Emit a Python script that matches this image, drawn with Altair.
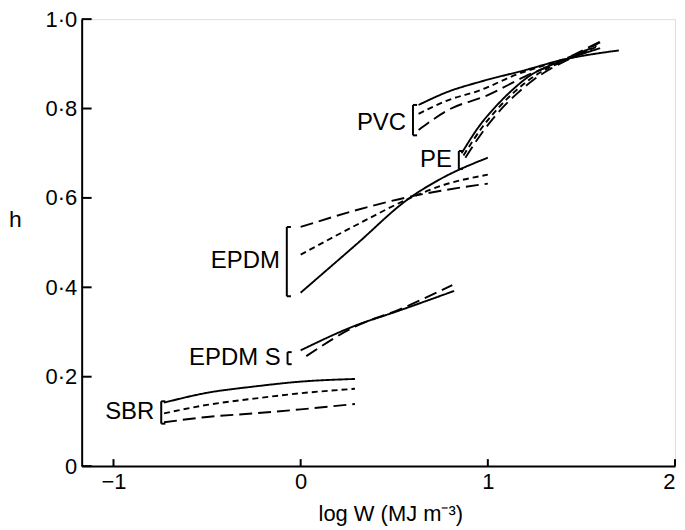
import altair as alt
import pandas as pd

# ---- data (x = log W, y = h) ----
SBR_solid_x = [-0.73, -0.5, -0.25, 0.0, 0.29]
SBR_solid_h = [0.142, 0.164, 0.178, 0.189, 0.195]
SBR_short_x = [-0.73, -0.5, -0.25, 0.0, 0.29]
SBR_short_h = [0.118, 0.137, 0.151, 0.163, 0.173]
SBR_long_x = [-0.73, -0.5, -0.25, 0.0, 0.29]
SBR_long_h = [0.098, 0.110, 0.118, 0.127, 0.139]

EPDMS_solid_x = [0.0, 0.29, 0.52, 0.82]
EPDMS_solid_h = [0.259, 0.314, 0.347, 0.392]
EPDMS_long_x = [0.03, 0.29, 0.52, 0.81]
EPDMS_long_h = [0.246, 0.312, 0.349, 0.405]

EPDM_solid_x = [0.0, 0.3, 0.576, 0.75, 1.0]
EPDM_solid_h = [0.388, 0.497, 0.598, 0.643, 0.69]
EPDM_short_x = [0.0, 0.3, 0.576, 0.75, 1.0]
EPDM_short_h = [0.473, 0.54, 0.598, 0.627, 0.652]
EPDM_long_x = [0.0, 0.3, 0.576, 0.75, 1.0]
EPDM_long_h = [0.535, 0.573, 0.602, 0.616, 0.632]

PVC_solid_x = [0.63, 0.79, 0.96, 1.2, 1.39, 1.70]
PVC_solid_h = [0.808, 0.838, 0.86, 0.886, 0.908, 0.930]
PVC_short_x = [0.63, 0.79, 0.96, 1.14, 1.41, 1.58]
PVC_short_h = [0.788, 0.819, 0.841, 0.874, 0.911, 0.940]
PVC_long_x = [0.63, 0.79, 1.0, 1.2, 1.4, 1.6]
PVC_long_h = [0.752, 0.797, 0.83, 0.872, 0.908, 0.950]

PE_solid_x = [0.86, 0.96, 1.05, 1.14, 1.23, 1.32, 1.42, 1.6]
PE_solid_h = [0.70, 0.764, 0.808, 0.845, 0.875, 0.894, 0.91, 0.935]
PE_short_x = [0.87, 0.97, 1.06, 1.15, 1.24, 1.33, 1.43, 1.59]
PE_short_h = [0.695, 0.758, 0.803, 0.84, 0.87, 0.892, 0.91, 0.94]
PE_long_x = [0.88, 0.98, 1.07, 1.16, 1.25, 1.34, 1.44, 1.6]
PE_long_h = [0.69, 0.752, 0.798, 0.835, 0.866, 0.89, 0.912, 0.948]

# brackets and labels
labels = ["SBR", "EPDM S", "EPDM", "PE", "PVC"]
bracket_x = [-0.745, -0.07, -0.074, 0.845, 0.60]
bracket_lo = [0.095, 0.228, 0.38, 0.665, 0.74]
bracket_hi = [0.145, 0.255, 0.535, 0.705, 0.808]
label_h = [0.122, 0.241, 0.458, 0.684, 0.768]

x_ticks = [-1, 0, 1, 2]
y_ticks = [0, 0.2, 0.4, 0.6, 0.8, 1.0]

# ---- build tables ----
series = [
    ("SBR", "solid", SBR_solid_x, SBR_solid_h),
    ("SBR", "short", SBR_short_x, SBR_short_h),
    ("SBR", "long", SBR_long_x, SBR_long_h),
    ("EPDM S", "solid", EPDMS_solid_x, EPDMS_solid_h),
    ("EPDM S", "long", EPDMS_long_x, EPDMS_long_h),
    ("EPDM", "solid", EPDM_solid_x, EPDM_solid_h),
    ("EPDM", "short", EPDM_short_x, EPDM_short_h),
    ("EPDM", "long", EPDM_long_x, EPDM_long_h),
    ("PVC", "solid", PVC_solid_x, PVC_solid_h),
    ("PVC", "short", PVC_short_x, PVC_short_h),
    ("PVC", "long", PVC_long_x, PVC_long_h),
    ("PE", "solid", PE_solid_x, PE_solid_h),
    ("PE", "short", PE_short_x, PE_short_h),
    ("PE", "long", PE_long_x, PE_long_h),
]
rows = []
for mat, sty, xs_, hs_ in series:
    for xv, hv in zip(xs_, hs_):
        rows.append({"x": xv, "h": hv, "style": sty, "series": mat + "-" + sty})
lines_df = pd.DataFrame(rows)

br_df = pd.DataFrame({"label": labels, "bx": bracket_x, "lo": bracket_lo,
                      "hi": bracket_hi, "lh": label_h})
br_df["bx2"] = br_df["bx"] + 0.022
cap_df = pd.concat([
    br_df[["bx", "bx2"]].assign(cy=br_df["lo"]),
    br_df[["bx", "bx2"]].assign(cy=br_df["hi"]),
])

xdom = [-1.17, 2.0]
ydom = [0.0, 1.0]
xs = alt.Scale(domain=xdom, nice=False, zero=False)
ys = alt.Scale(domain=ydom, nice=False)

FONT = "Liberation Sans"
W, H = 596, 449

x_axis = alt.Axis(values=x_ticks, ticks=False, grid=False, domainColor="black",
                  domainWidth=2, labelFont=FONT, labelFontSize=22, labelColor="black",
                  labelPadding=5, format="d",
                  title="log W (MJ m⁻³)", titleFont=FONT, titleFontSize=22,
                  titleFontWeight="normal", titleColor="black", titleX=310, titleY=48,
                  titleBaseline="middle")
y_axis = alt.Axis(values=y_ticks, ticks=False, grid=False, domainColor="black",
                  domainWidth=2, labelFont=FONT, labelFontSize=22, labelColor="black",
                  labelPadding=5,
                  labelExpr="datum.value == 0 ? '0' : replace(format(datum.value, '.1f'), '.', '·')",
                  title="h", titleFont=FONT, titleFontSize=23, titleFontWeight="normal",
                  titleColor="black", titleAngle=0, titleX=-67, titleY=201,
                  titleAlign="center", titleBaseline="middle")

base_lines = alt.Chart(lines_df).mark_line(color="black", strokeWidth=1.9,
                                           interpolate="monotone").encode(
    x=alt.X("x:Q", scale=xs, axis=x_axis),
    y=alt.Y("h:Q", scale=ys, axis=y_axis),
    detail="series:N",
    strokeDash=alt.StrokeDash("style:N", scale=alt.Scale(
        domain=["solid", "short", "long"], range=[[1, 0], [6, 4], [13, 6]]), legend=None),
)

vbr = alt.Chart(br_df).mark_rule(color="black", strokeWidth=2).encode(
    x=alt.X("bx:Q", scale=xs), y=alt.Y("lo:Q", scale=ys), y2="hi:Q")
cbr = alt.Chart(cap_df).mark_rule(color="black", strokeWidth=2).encode(
    x=alt.X("bx:Q", scale=xs), x2="bx2:Q", y=alt.Y("cy:Q", scale=ys))
txt = alt.Chart(br_df).mark_text(align="right", baseline="middle", dx=-7,
                                 font=FONT, fontSize=24, color="black").encode(
    x=alt.X("bx:Q", scale=xs), y=alt.Y("lh:Q", scale=ys), text="label:N")

ytick_df = pd.DataFrame({"v": y_ticks})
xtick_df = pd.DataFrame({"v": x_ticks})
ytk = alt.Chart(ytick_df).mark_rule(color="black", strokeWidth=2).encode(
    y=alt.Y("v:Q", scale=ys), x=alt.value(0), x2=alt.value(10))
xtk = alt.Chart(xtick_df).mark_rule(color="black", strokeWidth=2).encode(
    x=alt.X("v:Q", scale=xs), y=alt.value(H), y2=alt.value(H - 7))

chart = alt.layer(base_lines, vbr, cbr, txt, ytk, xtk).properties(
    width=W, height=H,
    autosize=alt.AutoSizeParams(type="none"),
    padding={"left": 74, "top": 10, "right": 2, "bottom": 62},
).configure_view(stroke=None).configure(background="white")

chart.save("out.html", embed_options={"renderer": "svg", "actions": False})
